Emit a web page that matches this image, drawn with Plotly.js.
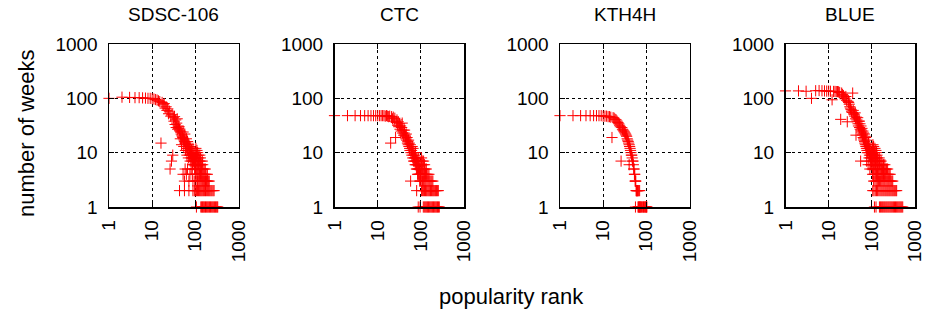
<!DOCTYPE html>
<html>
<head>
<meta charset="utf-8">
<script src="https://cdn.plot.ly/plotly-3.0.1.min.js"></script>
<style>html,body{margin:0;padding:0;background:#fff;}#chart{width:932px;height:311px;}</style>
</head>
<body>
<div id="chart"></div>
<script>
// ---------- data ----------
const panelTitles = ['SDSC-106', 'CTC', 'KTH4H', 'BLUE'];
const tickValues = [1, 10, 100, 1000];
const tickLabels = ['1', '10', '100', '1000'];

// SDSC-106
const sdscRank = [
  1,2,3,4,5,6,7,8,9,10,
  11,12,13,14,15,16,17,18,19,20,
  21,22,23,24,25,26,27,28,29,30,
  31,32,33,34,35,36,37,38,39,40,
  41,42,43,44,45,46,47,48,49,50,
  51,52,53,54,55,56,57,58,59,60,
  61,62,63,64,65,66,67,68,69,70,
  71,72,73,74,75,76,77,78,79,80,
  81,82,83,84,85,86,87,88,89,90,
  91,92,93,94,95,96,97,98,99,100,
  43,56,71,88,95,56,71,88,97,52,62,75,85,58,66,80
];
const sdscWeeks = [
  100,105,104,103,103,102,101,100,100,99,
  97,95,93,90,87,15,84,76,80,66,
  70,60,64,52,58,5,47,7,50,9,
  44,38,46,33,40,29,35,42,27,31,
  28,30,26,25,18,24,22,14,21,20,
  19,24,18,13,17,16,22,15,11,15,
  14,18,13,9,12,16,11,12,8,14,
  10,12,9,13,11,7,10,9,12,8,
  9,11,7,10,8,6,9,12,7,8,
  7,9,6,10,8,5,7,6,9,7,
  2,2,2,2,2,3,3,3,3,4,4,4,4,5,5,5
];
const sdscTailRank = [
  106,134,140,146,152,158,165,172,180,188,196,205,214,224,234,245,256,268,280,292,305,318,330,
  100,106,112,118,124,130,136,142,149,156,164,172,180,190,200,210,220,232,244,258,272,
  104,112,120,127,134,141,148,156,164,172,181,190,200,210,
  102,109,116,124,132,140,149,158,168,178,190,
  101,108,115,123,131,140,150,160,170,
  103,111,119,128,138,148,
  105,114,124,134,145,
  102,110,120,131,
  107,117,127,
  104,113,
  109,
  103
];
const sdscTailWeeks = [
  1,1,1,1,1,1,1,1,1,1,1,1,1,1,1,1,1,1,1,1,1,1,1,
  2,2,2,2,2,2,2,2,2,2,2,2,2,2,2,2,2,2,2,2,2,
  3,3,3,3,3,3,3,3,3,3,3,3,3,3,
  4,4,4,4,4,4,4,4,4,4,4,
  5,5,5,5,5,5,5,5,5,
  6,6,6,6,6,6,
  7,7,7,7,7,
  8,8,8,8,
  9,9,9,
  10,10,
  11,
  12
];

// CTC
const ctcRank = [
  1,2,3,4,5,6,7,8,9,10,
  11,12,13,14,15,16,17,18,19,20,
  21,22,23,24,25,26,27,28,29,30,
  31,32,33,34,35,36,37,38,39,40,
  41,42,43,44,45,46,47,48,49,50,
  51,52,53,54,55,56,57,58,59,60,
  61,62,63,64,65,66,67,68,69,70,
  71,72,73,74,75,76,77,78,79,80,
  81,82,83,84,85,86,87,88,89,90,
  91,92,93,94,95,96,97,98,99,100
];
const ctcWeeks = [
  48,48,48,48,48,48,48,48,48,48,
  48,48,48,48,47,48,47,46,47,15,
  46,42,45,38,43,19,36,40,32,37,
  30,34,27,31,25,29,35,23,26,21,
  23,26,21,20,18,22,17,19,15,16,
  14,17,13,15,12,11,14,3,10,12,
  11,9,13,10,8,12,9,7,10,8,
  9,7,8,6,10,7,6,8,5,7,
  6,5,7,4,6,5,8,4,6,5,
  4,6,5,3,4,7,5,4,3,6
];
const ctcTailRank = [
  87,96,114,120,126,132,138,144,150,157,164,172,180,188,196,205,214,224,234,244,256,268,
  80,104,110,116,122,128,134,140,147,154,161,168,176,184,192,200,210,220,230,242,254,
  102,109,116,123,130,138,146,154,162,171,180,190,
  101,107,114,121,128,136,145,154,
  103,110,118,126,134,
  105,113,122,
  108,116,
  104
];
const ctcTailWeeks = [
  1,1,1,1,1,1,1,1,1,1,1,1,1,1,1,1,1,1,1,1,1,1,
  2,2,2,2,2,2,2,2,2,2,2,2,2,2,2,2,2,2,2,2,2,
  3,3,3,3,3,3,3,3,3,3,3,3,
  4,4,4,4,4,4,4,4,
  5,5,5,5,5,
  6,6,6,
  7,7,
  8
];

// KTH4H
const kthRank = [
  1,2,3,4,5,6,7,8,9,10,
  11,12,13,14,15,16,17,18,19,20,
  21,22,23,24,25,26,27,28,29,30,
  31,32,33,34,35,36,37,38,39,40,
  41,42,43,44,45,46,47,48,49,50,
  51,52,53,54,55,56,57,58,59,60,
  61,62,63,64,65,66,67,68,69,70,71,72,
  40,56,74,77,80,83,86,89,92,95,98,101,103
];
const kthWeeks = [
  48,48,48,48,48,48,48,48,48,47,
  47,47,46,46,45,19,44,43,41,40,
  38,36,34,32,30,7,29,27,26,25,
  24,23,22,21,20,18,17,16,15,14,
  13,12,11,10,9,9,8,7,7,6,
  5,5,4,4,3,3,3,2,2,2,
  2,2,2,1,2,1,2,1,1,2,1,1,
  6,1,1,1,1,1,1,1,1,1,1,1,1
];

// BLUE
const blueRank = [
  1,2,3,4,5,6,7,8,9,10,
  11,12,13,14,15,16,17,18,19,20,
  21,22,23,24,25,26,27,28,29,30,
  31,32,33,34,35,36,37,38,39,40,
  41,42,43,44,45,46,47,48,49,50,
  51,52,53,54,55,56,57,58,59,60,
  61,62,63,64,65,66,67,68,69,70,
  71,72,73,74,75,76,77,78,79,80,
  81,82,83,84,85,86,87,88,89,90,
  91,92,93,94,95,96,97,98,99,100
];
const blueWeeks = [
  137,137,135,100,138,139,138,137,136,136,
  135,94,134,134,133,133,132,128,41,125,
  118,112,105,98,108,92,37,88,84,78,
  70,66,62,58,55,125,60,52,50,47,
  54,42,21,45,40,37,44,34,31,38,
  38,29,34,27,7,31,26,24,28,22,
  21,25,19,23,18,17,22,16,15,20,
  14,19,13,17,12,7,11,14,10,13,
  12,6,11,15,10,8,12,9,11,5,
  10,8,9,6,11,7,8,10,6,9
];
const blueTailRank = [
  115,125,150,158,166,175,184,194,204,215,226,238,250,263,276,290,305,320,336,353,370,388,407,427,448,470,494,520,
  105,112,120,128,136,145,154,163,172,182,192,203,214,226,238,251,264,278,293,308,324,340,358,376,
  110,118,126,134,142,150,160,170,180,190,200,212,224,236,248,262,276,290,305,
  104,112,120,128,136,145,155,165,175,186,198,210,224,238,252,266,
  102,110,118,126,135,145,155,166,178,190,204,218,232,
  106,114,122,131,140,150,162,174,186,200,
  103,112,121,130,140,152,164,
  108,117,126,136,148,
  102,111,120,132,
  106,116,128,
  110,124,
  104,118,
  110,
  106
];
const blueTailWeeks = [
  1,1,1,1,1,1,1,1,1,1,1,1,1,1,1,1,1,1,1,1,1,1,1,1,1,1,1,1,
  2,2,2,2,2,2,2,2,2,2,2,2,2,2,2,2,2,2,2,2,2,2,2,2,
  3,3,3,3,3,3,3,3,3,3,3,3,3,3,3,3,3,3,3,
  4,4,4,4,4,4,4,4,4,4,4,4,4,4,4,4,
  5,5,5,5,5,5,5,5,5,5,5,5,5,
  6,6,6,6,6,6,6,6,6,6,
  7,7,7,7,7,7,7,
  8,8,8,8,8,
  9,9,9,9,
  10,10,10,
  11,11,
  12,12,
  13,
  14
];

// ---------- chart ----------
const FONT = '"Liberation Sans", Arial, Helvetica, sans-serif';
const RED = '#ff0000';

const panelX = [sdscRank.concat(sdscTailRank), ctcRank.concat(ctcTailRank), kthRank, blueRank.concat(blueTailRank)];
const panelY = [sdscWeeks.concat(sdscTailWeeks), ctcWeeks.concat(ctcTailWeeks), kthWeeks, blueWeeks.concat(blueTailWeeks)];

const W = 932, H = 311;
const lefts = [109, 334.5, 560, 785.5];
const plotW = 129.5;
const plotTop = 44, plotBottom = 207;

const traces = panelX.map((xs, i) => ({
  type: 'scatter', mode: 'markers',
  x: xs, y: panelY[i],
  xaxis: i === 0 ? 'x' : 'x' + (i + 1),
  yaxis: i === 0 ? 'y' : 'y' + (i + 1),
  cliponaxis: false,
  marker: {symbol: 'cross-thin-open', size: 8, color: RED, line: {color: RED, width: 1}},
  showlegend: false, hoverinfo: 'skip'
}));

function axisStyle() {
  return {
    type: 'log', range: [0, 3], tickmode: 'array', tickvals: tickValues, ticktext: tickLabels,
    ticks: 'inside', ticklen: 5, tickwidth: 1, tickcolor: '#000',
    showline: true, linecolor: '#000', linewidth: 1.5, mirror: 'ticks',
    showgrid: true, gridcolor: '#000', gridwidth: 1, griddash: 'dot',
    zeroline: false, fixedrange: true,
    tickfont: {family: FONT, size: 19, color: '#000'}
  };
}

const layout = {
  width: W, height: H,
  margin: {l: 0, r: 0, t: 0, b: 0, pad: 0},
  paper_bgcolor: '#fff', plot_bgcolor: '#fff',
  showlegend: false,
  annotations: []
};

for (let i = 0; i < 4; i++) {
  const sx = i === 0 ? '' : String(i + 1);
  const xa = axisStyle();
  xa.domain = [lefts[i] / W, (lefts[i] + plotW) / W];
  xa.anchor = 'y' + sx;
  xa.tickangle = -90;
  xa.ticklabelstandoff = 4;
  const ya = axisStyle();
  ya.domain = [1 - plotBottom / H, 1 - plotTop / H];
  ya.anchor = 'x' + sx;
  ya.ticklabelstandoff = 6;
  layout['xaxis' + sx] = xa;
  layout['yaxis' + sx] = ya;
  layout.annotations.push({
    text: panelTitles[i], xref: 'paper', yref: 'paper',
    x: (lefts[i] + plotW / 2) / W, y: 1 - 14.5 / H, xanchor: 'center', yanchor: 'middle',
    showarrow: false, font: {family: FONT, size: 19, color: '#000'}
  });
}

layout.annotations.push({
  text: 'number of weeks', xref: 'paper', yref: 'paper', textangle: -90,
  x: 27 / W, y: 1 - 133 / H, xanchor: 'center', yanchor: 'middle',
  showarrow: false, font: {family: FONT, size: 22, color: '#000'}
});
layout.annotations.push({
  text: 'popularity rank', xref: 'paper', yref: 'paper',
  x: 511.5 / W, y: 1 - 296 / H, xanchor: 'center', yanchor: 'middle',
  showarrow: false, font: {family: FONT, size: 22, color: '#000'}
});

Plotly.newPlot('chart', traces, layout, {displayModeBar: false, staticPlot: true});
</script>
</body>
</html>
